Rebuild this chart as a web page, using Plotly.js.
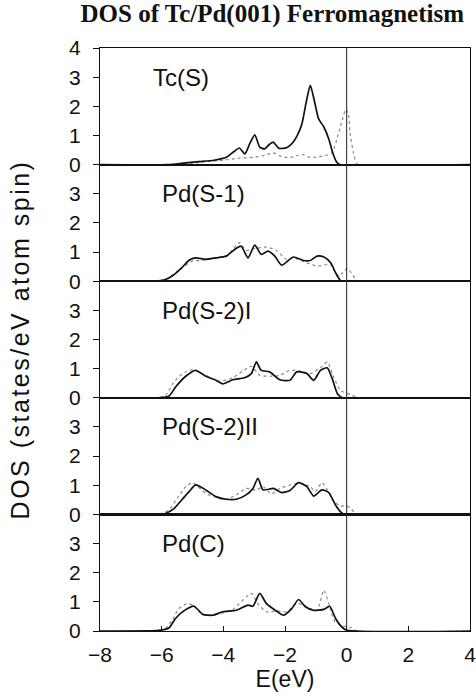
<!DOCTYPE html>
<html>
<head>
<meta charset="utf-8">
<script src="https://cdn.plot.ly/plotly-3.0.1.min.js"></script>
<style>
html,body{margin:0;padding:0;background:#fff;}
.y3title{letter-spacing:2.5px;}
</style>
</head>
<body>
<div id="chart" style="width:476px;height:698px;"></div>
<script>
// Panel labels
const panelNames = ["Tc(S)", "Pd(S-1)", "Pd(S-2)I", "Pd(S-2)II", "Pd(C)"];
const xTickVals = [-8, -6, -4, -2, 0, 2, 4];

// Tc(S)
const tcS_solid_E = [-8, -5.8, -5.3, -4.8, -4.3, -3.9, -3.65, -3.48, -3.3, -3.15, -2.98, -2.82, -2.66, -2.5, -2.38, -2.2, -1.95, -1.75, -1.6, -1.45, -1.32, -1.18, -1.05, -0.91, -0.74, -0.58, -0.45, -0.32, -0.22, 4];
const tcS_solid = [0, 0, 0.05, 0.1, 0.15, 0.25, 0.45, 0.57, 0.37, 0.7, 1.02, 0.6, 0.54, 0.7, 0.77, 0.56, 0.58, 0.75, 1.0, 1.4, 2.1, 2.72, 2.2, 1.57, 1.29, 0.88, 0.4, 0.08, 0, 0];
const tcS_dot_E = [-8, -5.6, -5.0, -4.5, -4.0, -3.5, -3.0, -2.65, -2.38, -2.1, -1.8, -1.45, -1.2, -0.9, -0.63, -0.47, -0.35, -0.25, -0.12, -0.03, 0.05, 0.12, 0.22, 0.32, 0.4, 4];
const tcS_dot = [0, 0, 0.05, 0.1, 0.15, 0.22, 0.25, 0.32, 0.4, 0.27, 0.25, 0.35, 0.25, 0.27, 0.33, 0.4, 0.75, 1.13, 1.6, 1.9, 1.75, 1.0, 0.4, 0.03, 0, 0];

// Pd(S-1)
const pdS1_solid_E = [-8, -6.2, -5.9, -5.67, -5.35, -5.11, -4.9, -4.57, -4.24, -3.91, -3.58, -3.42, -3.2, -2.98, -2.77, -2.55, -2.33, -2.11, -1.73, -1.4, -1.18, -0.96, -0.74, -0.52, -0.36, -0.2, -0.1, 4];
const pdS1_solid = [0, 0, 0.05, 0.17, 0.46, 0.72, 0.8, 0.75, 0.8, 0.86, 1.13, 1.2, 0.8, 1.24, 0.92, 1.03, 0.86, 0.55, 0.83, 0.71, 0.71, 0.86, 0.83, 0.63, 0.29, 0.02, 0, 0];
const pdS1_dot_E = [-8, -6.2, -5.9, -5.67, -5.35, -5.0, -4.68, -4.3, -3.9, -3.48, -3.26, -2.93, -2.6, -2.28, -1.95, -1.73, -1.29, -0.96, -0.52, -0.3, -0.13, 0.02, 0.19, 0.35, 4];
const pdS1_dot = [0, 0, 0.05, 0.2, 0.45, 0.69, 0.71, 0.8, 0.85, 1.32, 1.06, 1.13, 1.17, 1.06, 0.75, 0.8, 0.63, 0.52, 0.57, 0.17, 0.29, 0.44, 0.23, 0, 0];

// Pd(S-2)I
const pdS2I_solid_E = [-8, -6.1, -5.77, -5.55, -5.22, -4.9, -4.57, -4.24, -4.02, -3.69, -3.31, -3.09, -2.93, -2.77, -2.5, -2.17, -1.84, -1.62, -1.29, -1.07, -0.85, -0.63, -0.47, -0.3, -0.13, 4];
const pdS2I_solid = [0, 0, 0.05, 0.37, 0.74, 0.94, 0.74, 0.6, 0.48, 0.62, 0.69, 0.83, 1.23, 0.94, 0.89, 0.62, 0.6, 0.89, 0.83, 0.6, 0.94, 1.03, 0.66, 0.14, 0, 0];
const pdS2I_dot_E = [-8, -6.1, -5.88, -5.6, -5.33, -5.0, -4.57, -4.13, -3.69, -3.37, -3.09, -2.82, -2.5, -2.17, -1.84, -1.51, -1.18, -0.85, -0.63, -0.41, -0.2, 0.13, 0.35, 4];
const pdS2I_dot = [0, 0, 0.08, 0.54, 0.83, 0.97, 0.77, 0.57, 0.69, 0.92, 1.08, 0.77, 0.74, 0.77, 0.94, 0.92, 0.83, 1.03, 1.23, 0.69, 0.25, 0.11, 0, 0];

// Pd(S-2)II
const pdS2II_solid_E = [-8, -6.1, -5.88, -5.6, -5.33, -5.11, -4.9, -4.57, -4.24, -3.91, -3.58, -3.26, -3.04, -2.88, -2.71, -2.38, -2.11, -1.84, -1.56, -1.29, -1.07, -0.8, -0.58, -0.36, -0.13, 4];
const pdS2II_solid = [0, 0, 0.03, 0.2, 0.52, 0.78, 1.01, 0.84, 0.61, 0.52, 0.52, 0.67, 0.89, 1.24, 0.84, 0.89, 0.75, 0.82, 1.09, 0.95, 0.63, 0.84, 0.75, 0.32, 0.03, 0];
const pdS2II_dot_E = [-8, -6.1, -5.77, -5.5, -5.22, -5.0, -4.57, -4.24, -3.91, -3.58, -3.26, -2.93, -2.71, -2.44, -2.17, -1.84, -1.51, -1.18, -1.02, -0.8, -0.63, -0.41, -0.2, 0.02, 0.24, 0.35, 4];
const pdS2II_dot = [0, 0, 0.15, 0.55, 0.95, 1.09, 0.72, 0.59, 0.52, 0.67, 0.89, 0.84, 0.95, 0.7, 0.89, 1.01, 1.07, 0.95, 0.78, 1.09, 0.84, 0.44, 0.29, 0.29, 0.09, 0, 0];

// Pd(C)
const pdC_solid_E = [-8, -6.1, -5.77, -5.55, -5.28, -4.95, -4.67, -4.34, -4.02, -3.58, -3.2, -3.04, -2.82, -2.6, -2.27, -2.05, -1.78, -1.56, -1.34, -1.07, -0.74, -0.55, -0.36, -0.14, 0.02, 4];
const pdC_solid = [0, 0.02, 0.1, 0.43, 0.69, 0.85, 0.57, 0.54, 0.66, 0.71, 0.89, 0.85, 1.29, 0.94, 0.68, 0.54, 0.77, 1.08, 0.83, 0.71, 0.74, 0.85, 0.43, 0.12, 0.02, 0];
const pdC_dot_E = [-8, -6.1, -5.88, -5.66, -5.44, -5.17, -5.0, -4.79, -4.57, -4.13, -3.69, -3.26, -3.09, -2.88, -2.6, -2.27, -1.95, -1.62, -1.4, -1.18, -0.96, -0.74, -0.58, -0.41, -0.2, 0.13, 0.35, 4];
const pdC_dot = [0, 0, 0.08, 0.37, 0.77, 0.94, 0.89, 0.66, 0.54, 0.6, 0.74, 1.17, 1.29, 0.94, 0.66, 0.69, 0.66, 0.94, 0.89, 0.77, 0.71, 1.4, 0.94, 0.37, 0.2, 0.12, 0, 0];

const solidE = [tcS_solid_E, pdS1_solid_E, pdS2I_solid_E, pdS2II_solid_E, pdC_solid_E];
const solidV = [tcS_solid, pdS1_solid, pdS2I_solid, pdS2II_solid, pdC_solid];
const dotE = [tcS_dot_E, pdS1_dot_E, pdS2I_dot_E, pdS2II_dot_E, pdC_dot_E];
const dotV = [tcS_dot, pdS1_dot, pdS2I_dot, pdS2II_dot, pdC_dot];

const N = 5;
const traces = [];
for (let i = 0; i < N; i++) {
  const sfx = i === 0 ? "" : String(i + 1);
  traces.push({
    x: dotE[i], y: dotV[i], xaxis: "x" + sfx, yaxis: "y" + sfx,
    type: "scatter", mode: "lines", showlegend: false, hoverinfo: "skip",
    line: {color: "#8a8a8a", width: 1.2, dash: "dot", shape: "spline", smoothing: 0.6}
  });
  traces.push({
    x: solidE[i], y: solidV[i], xaxis: "x" + sfx, yaxis: "y" + sfx,
    type: "scatter", mode: "lines", showlegend: false, hoverinfo: "skip",
    line: {color: "#111", width: 1.7, shape: "spline", smoothing: 0.6}
  });
}

const sansFam = "Liberation Sans, Arial, sans-serif";
const tickFont = {family: sansFam, size: 21, color: "#111"};
const layout = {
  width: 476, height: 698,
  margin: {l: 100, r: 6, t: 48, b: 67},
  paper_bgcolor: "#fff", plot_bgcolor: "#fff",
  title: {
    text: "<b>DOS of Tc/Pd(001) Ferromagnetism</b>",
    font: {family: "Liberation Serif, Times New Roman, serif", size: 25, color: "#111"},
    x: 0.572, xanchor: "center", y: 0.981, yanchor: "middle"
  },
  shapes: [{
    type: "line", xref: "x", yref: "paper", x0: 0, x1: 0, y0: 0, y1: 1,
    line: {color: "#222", width: 1}
  }],
  annotations: []
};

const labelX = [-6.33, -6.07, -6.07, -6.07, -6.07];
for (let i = 0; i < N; i++) {
  const sfx = i === 0 ? "" : String(i + 1);
  const top = 1 - i / N, bot = 1 - (i + 1) / N;
  layout["xaxis" + sfx] = {
    anchor: "y" + sfx,
    matches: i === 0 ? undefined : "x",
    range: [-8, 4], tickvals: xTickVals,
    showline: true, linecolor: "#111", linewidth: 1.1, mirror: true,
    showgrid: false, zeroline: false,
    showticklabels: i === N - 1,
    ticklabeloverflow: "allow",
    ticks: i === N - 1 ? "inside" : "", ticklen: 5, tickcolor: "#111",
    ticklabelstandoff: 5,
    tickfont: tickFont
  };
  layout["yaxis" + sfx] = {
    anchor: "x" + sfx,
    domain: [bot, top],
    range: [0, 4],
    tickvals: i === 0 ? [0, 1, 2, 3, 4] : [0, 1, 2, 3],
    ticks: "outside", ticklen: 6, tickcolor: "#111",
    ticklabelstandoff: 8,
    showline: true, linecolor: "#111", linewidth: 1.1, mirror: true,
    showgrid: false, zeroline: false,
    tickfont: tickFont
  };
  layout.annotations.push({
    text: panelNames[i], xref: "x" + sfx, yref: "y" + sfx,
    x: labelX[i], y: 3.0, xanchor: "left", yanchor: "middle", showarrow: false,
    font: {family: sansFam, size: 24, color: "#111"}
  });
}
layout.xaxis5.title = {text: "E(eV)", font: {family: sansFam, size: 23, color: "#111"}, standoff: 2};
layout.yaxis3.title = {text: "DOS (states/eV atom spin)", font: {family: sansFam, size: 25, color: "#111"}, standoff: 32};

Plotly.newPlot("chart", traces, layout, {displayModeBar: false, staticPlot: true});
</script>
</body>
</html>
